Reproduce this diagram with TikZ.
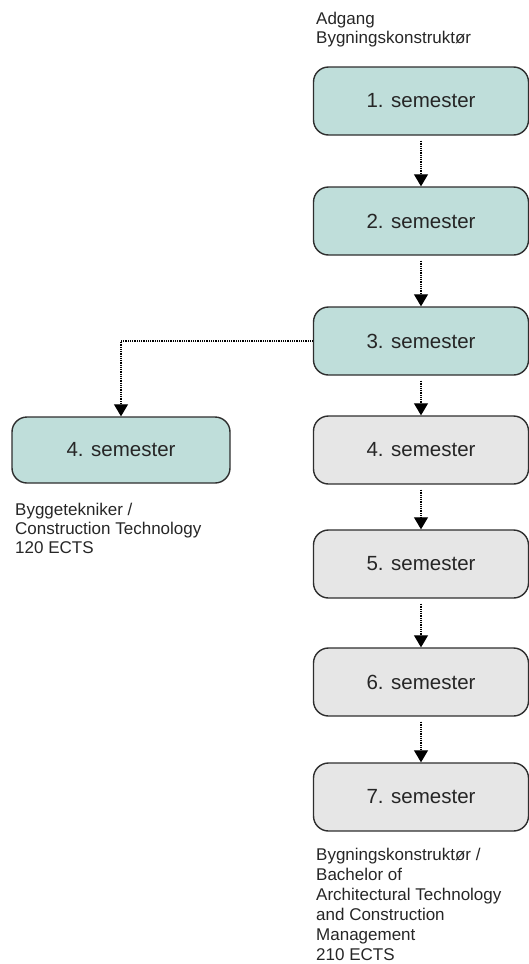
\documentclass[tikz,border=0pt]{standalone}
\usepackage{fontspec}
\setmainfont{Liberation Sans}
\usetikzlibrary{arrows.meta,positioning}
\definecolor{semteal}{HTML}{BFDEDA}
\definecolor{semgray}{HTML}{E6E6E6}
\definecolor{semline}{HTML}{2E2E2E}

\begin{document}
\begin{tikzpicture}[x=1pt,y=-1pt]
\useasboundingbox (0,0) rectangle (529,964);

\begin{scope}[node distance=120pt,sem/.style={rectangle,rounded corners=15pt,draw=semline,line width=1.4pt,minimum width=215pt,minimum height=68pt,font=\fontsize{20.5}{24}\selectfont,text=black!85},base/.style={sem,fill=semteal},extra/.style={sem,fill=semgray},info/.style={align=left,anchor=north west,inner sep=0pt,text=black!85,font=\fontsize{17}{20}\selectfont},flow/.style={-{Triangle[length=12pt,width=14pt]},line width=1.1pt,dash pattern=on 1pt off 0.8pt,black,shorten <=5pt}]
% Nodes
\node[base] at (421,101) (s1) {1. semester};
\node[base,below of = s1] (s2) {2. semester};
\node[base,below of = s2] (s3) {3. semester};
\node[extra,below of = s3,yshift=11pt] (s4) {4. semester};
\node[extra,below of = s4,yshift=6pt] (s5) {5. semester};
\node[extra,below of = s5,yshift=2pt] (s6) {6. semester};
\node[extra,below of = s6,yshift=5pt] (s7) {7. semester};
\node[base,left of = s4,node distance=300pt,minimum width=218pt,minimum height=66pt] (t4) {4. semester};

\node[info,font=\fontsize{17}{18.5}\selectfont] at (316,12) (adgang) {Adgang\\Bygningskonstruktør};
\node[info,font=\fontsize{17}{19.2}\selectfont] at (15,503) (bt) {Byggetekniker /\\Construction Technology\\120 ECTS};
\node[info] at (316,848) (bk) {Bygningskonstruktør /\\Bachelor of\\Architectural Technology\\and Construction\\Management\\210 ECTS};

%arcs
\path (s1) edge[flow] (s2);
\path (s2) edge[flow] (s3);
\path (s3) edge[flow] (s4);
\path (s4) edge[flow] (s5);
\path (s5) edge[flow] (s6);
\path (s6) edge[flow] (s7);
\draw[flow,shorten <=0pt] (s3.west) -| (t4.north);

\end{scope}

\end{tikzpicture}
\end{document}
